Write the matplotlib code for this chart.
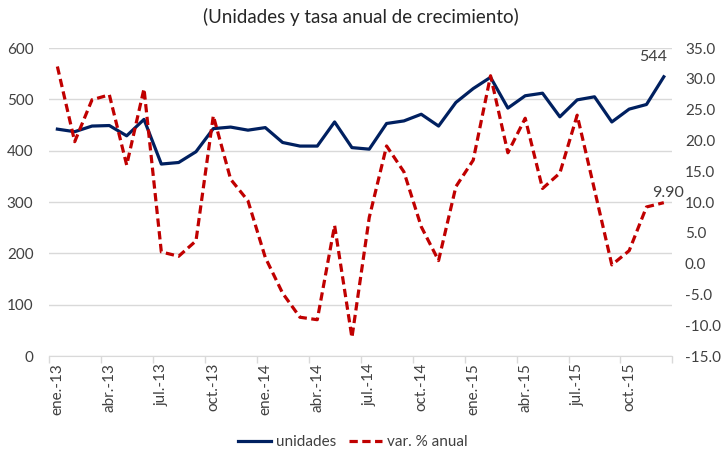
import matplotlib
matplotlib.use('Agg')
import matplotlib.pyplot as plt
import numpy as np

# --- Data ---
meses = ['ene.-13', 'feb.-13', 'mar.-13', 'abr.-13', 'may.-13', 'jun.-13',
         'jul.-13', 'ago.-13', 'sep.-13', 'oct.-13', 'nov.-13', 'dic.-13',
         'ene.-14', 'feb.-14', 'mar.-14', 'abr.-14', 'may.-14', 'jun.-14',
         'jul.-14', 'ago.-14', 'sep.-14', 'oct.-14', 'nov.-14', 'dic.-14',
         'ene.-15', 'feb.-15', 'mar.-15', 'abr.-15', 'may.-15', 'jun.-15',
         'jul.-15', 'ago.-15', 'sep.-15', 'oct.-15', 'nov.-15', 'dic.-15']

unidades = [442, 437, 448, 449, 429, 461, 374, 377, 398, 443, 446, 440,
            445, 416, 409, 409, 456, 406, 403, 453, 458, 471, 448, 494,
            521, 543, 483, 507, 512, 466, 499, 505, 456, 481, 490, 544]

var_anual = [32.0, 19.8, 26.6, 27.4, 16.0, 28.4, 1.9, 1.2, 3.7, 24.0, 13.7, 10.2,
             1.0, -4.8, -8.7, -9.1, 6.2, -12.0, 7.5, 19.1, 14.9, 6.0, 0.5, 12.5,
             16.8, 30.5, 18.0, 23.6, 12.2, 14.7, 24.1, 12.0, -0.2, 2.1, 9.2, 9.9]

left_ticks = [0, 100, 200, 300, 400, 500, 600]
right_ticks = [-15, -10, -5, 0, 5, 10, 15, 20, 25, 30, 35]

NAVY = '#002060'
RED = '#C00000'
TXT = '#404040'
GRID = '#D9D9D9'

plt.rcParams['font.family'] = ['Lato', 'DejaVu Sans']

fig = plt.figure(figsize=(7.27, 4.53), dpi=100)
ax = fig.add_axes([0.067, 0.214, 0.858, 0.680])
ax2 = ax.twinx()

x = np.arange(len(meses))

l1, = ax.plot(x, unidades, color=NAVY, lw=2.3, label='unidades', zorder=3)
l2, = ax2.plot(x, var_anual, color=RED, lw=2.3, ls=(0, (2.6, 1.4)),
               dash_capstyle='butt', label='var. % anual', zorder=3)

# axes ranges
ax.set_xlim(-0.5, len(meses) - 0.5)
ax.set_ylim(0, 600)
ax2.set_ylim(-15, 35)

ax.set_yticks(left_ticks)
ax.set_yticklabels([str(v) for v in left_ticks])
ax2.set_yticks(right_ticks)
ax2.set_yticklabels([f'{v:.1f}' for v in right_ticks])

# category labels every 3 months, tick marks between categories
ax.set_xticks(x[::3])
ax.set_xticklabels(meses[::3], rotation=90)
ax.set_xticks(np.arange(-0.5, len(meses), 3), minor=True)
ax.tick_params(axis='x', which='major', length=0, pad=5, labelsize=11, colors=TXT)
ax.tick_params(axis='x', which='minor', length=5, color=GRID, width=1)
ax.tick_params(axis='y', length=0, pad=11, labelsize=11, colors=TXT)
ax2.tick_params(axis='y', length=0, pad=9, labelsize=11, colors=TXT)

ax.grid(axis='y', color=GRID, lw=1)
ax.set_axisbelow(True)
for a in (ax, ax2):
    for s in ['top', 'left', 'right']:
        a.spines[s].set_visible(False)
    a.spines['bottom'].set_color(GRID)
ax2.spines['bottom'].set_visible(False)

# data labels on the last point
ax.annotate(str(unidades[-1]), (x[-1], unidades[-1]), xytext=(-8, 9),
            textcoords='offset points', ha='center', va='bottom',
            fontsize=11.5, color=TXT)
ax2.annotate(f'{var_anual[-1]:.2f}', (x[-1], var_anual[-1]), xytext=(3, 2),
             textcoords='offset points', ha='center', va='bottom',
             fontsize=11.5, color=TXT)

fig.text(0.497, 0.962, '(Unidades y tasa anual de crecimiento)', ha='center',
         va='center', fontsize=13.5, color='#262626')

fig.legend(handles=[l1, l2], loc='center', bbox_to_anchor=(0.485, 0.024),
           ncol=2, frameon=False, fontsize=11, handlelength=2.2,
           handletextpad=0.3, columnspacing=0.8, labelcolor=TXT)

fig.savefig('out.png', dpi=100)
